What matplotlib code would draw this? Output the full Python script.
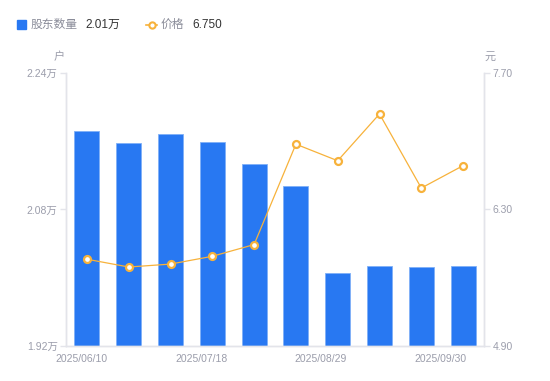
import numpy as np
import matplotlib
matplotlib.use("Agg")
import matplotlib.pyplot as plt

plt.rcParams['font.family'] = ['Liberation Sans', 'Noto Sans CJK SC', 'DejaVu Sans']

# data
dates = ['2025/06/10', '2025/06/20', '2025/06/30', '2025/07/18', '2025/07/31',
         '2025/08/15', '2025/08/29', '2025/09/10', '2025/09/19', '2025/09/30']
holders = [21720, 21580, 21690, 21590, 21330, 21070, 20050, 20140, 20130, 20140]  # 户
price = [5.79, 5.71, 5.74, 5.82, 5.94, 6.97, 6.80, 7.28, 6.52, 6.75]  # 元
left_ticks = [1.92, 2.08, 2.24]
right_ticks = [4.90, 6.30, 7.70]
shown_labels = ['2025/06/10', '2025/07/18', '2025/08/29', '2025/09/30']

blue = '#2878f2'
orange = '#f7b23b'
grey = '#9b9dab'
axis_c = '#e3e4ea'

fig = plt.figure(figsize=(5.5, 3.81), dpi=100)
ax = fig.add_axes([0.12, 0.0919, 0.76, 0.7165])
ax2 = ax.twinx()

x = np.arange(len(dates))
ax.bar(x, np.array(holders) / 1e4, width=0.6, color=blue, edgecolor='#7fb0f7',
       linewidth=0.6, zorder=2)
ax.set_xlim(-0.5, len(dates) - 0.5)
ax.set_ylim(left_ticks[0], left_ticks[-1])
ax.set_yticks(left_ticks)
ax.set_yticklabels([f'{t:.2f}万' for t in left_ticks])

ax2.plot(x, price, color=orange, linewidth=0.9, marker='o', markersize=5,
         markerfacecolor='white', markeredgecolor=orange, markeredgewidth=1.6, zorder=3)
ax2.set_ylim(right_ticks[0], right_ticks[-1])
ax2.set_yticks(right_ticks)
ax2.set_yticklabels([f'{t:.2f}' for t in right_ticks])

# date labels are spread evenly under the axis
ax.set_xticks(np.linspace(-0.12, 8.45, len(shown_labels)))
ax.set_xticklabels(shown_labels)

for a in (ax, ax2):
    for s in a.spines.values():
        s.set_color(axis_c)
        s.set_linewidth(1.0)
    a.spines['top'].set_visible(False)
    a.tick_params(axis='y', colors=axis_c, labelcolor=grey, labelsize=7.5,
                  length=4, width=1.0, pad=2)
ax.tick_params(axis='x', length=0, labelcolor=grey, labelsize=7.5, pad=6)

# unit labels
fig.text(59 / 550, 1 - 57 / 381, '户', color=grey, fontsize=8, ha='center', va='center')
fig.text(490 / 550, 1 - 57 / 381, '元', color=grey, fontsize=8, ha='center', va='center')

# legend
fig.patches.append(plt.Rectangle((17 / 550, 1 - 29 / 381), 9 / 550, 9 / 381,
                                 transform=fig.transFigure, color=blue, figure=fig))
fig.text(31 / 550, 1 - 24.5 / 381, '股东数量', color='#8a8c99', fontsize=8.5, va='center')
fig.text(85 / 550, 1 - 24.5 / 381, f'{holders[-1] / 1e4:.2f}万', color='#333333',
         fontsize=8.5, va='center')
fig.add_artist(plt.Line2D([146 / 550, 157 / 550], [1 - 24.5 / 381] * 2, color=orange,
                          linewidth=1.2, transform=fig.transFigure))
fig.add_artist(plt.Line2D([151.5 / 550], [1 - 24.5 / 381], marker='o', markersize=4.5,
                          markerfacecolor='white', markeredgecolor=orange,
                          markeredgewidth=1.5, transform=fig.transFigure))
fig.text(161 / 550, 1 - 24.5 / 381, '价格', color='#8a8c99', fontsize=8.5, va='center')
fig.text(192 / 550, 1 - 24.5 / 381, f'{price[-1]:.3f}', color='#333333',
         fontsize=8.5, va='center')

fig.savefig('out.png', dpi=100)
